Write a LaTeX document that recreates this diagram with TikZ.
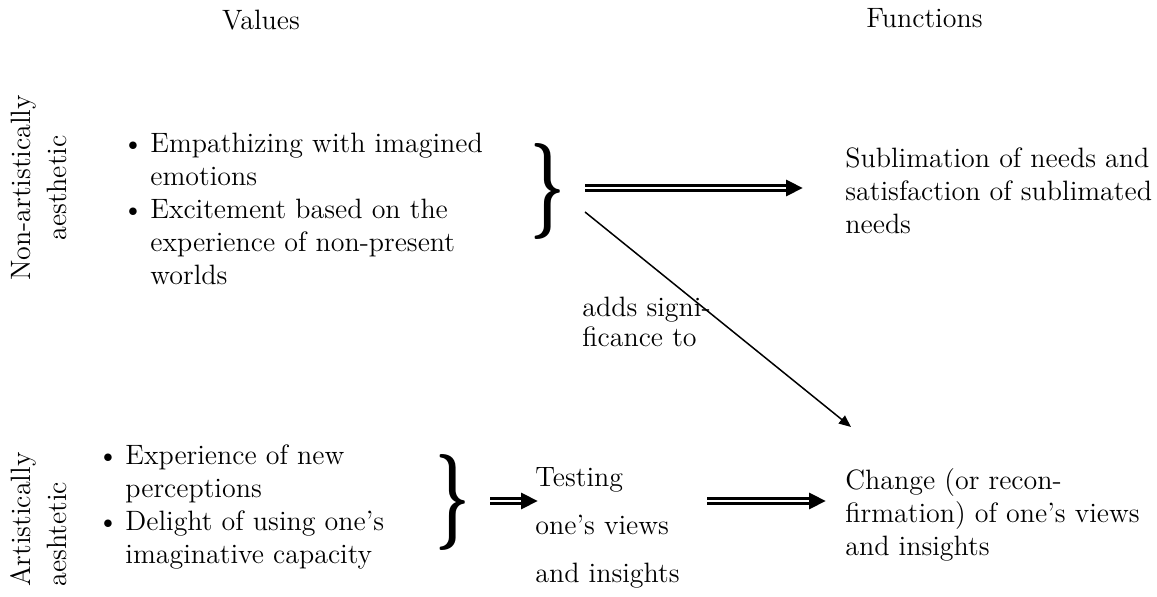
\documentclass[tikz,border=0pt]{standalone}
\usetikzlibrary{arrows.meta}
\usepackage{graphicx}
\begin{document}
\begin{tikzpicture}[x=0.5pt,y=-0.5pt,
  txt/.style={inner sep=0pt, font=\fontsize{14}{16.5}\selectfont, anchor=base west},
  dbl/.style={line width=4.4pt, -{Triangle[length=8.5pt,width=7.8pt]}},
  dblin/.style={white, line width=1.4pt, shorten >=8.5pt},
  thinarrow/.style={line width=0.75pt, -{Triangle[length=6pt,width=5pt]}},
  brc/.style={inner sep=0pt}]
\useasboundingbox (0,0) rectangle (1157,597);
\newcommand{\bul}{\makebox[14pt][l]{\textbullet}}
\newcommand{\bigbrace}{\scalebox{1}[1.6]{\fontsize{30}{30}\selectfont\bfseries\}}}

% headers
\node[txt, anchor=base] (values) at (261,30) {Values};
\node[txt, anchor=base east] (functions) at (983,28) {Functions};

% side labels
\node[txt, rotate=90, anchor=base, font=\fontsize{14}{17.5}\selectfont] (lab1) at (31,188)
  {\begin{tabular}[t]{@{}c@{}}Non-artistically\\aesthetic\end{tabular}};
\node[txt, rotate=90, anchor=base west, font=\fontsize{14}{17.5}\selectfont] (lab2) at (31,587)
  {\begin{tabular}[t]{@{}l@{}}Artistically\\aeshtetic\end{tabular}};

% bullet lists
\node[txt] (bul1) at (122,153)
  {\begin{tabular}[t]{@{}l@{}l@{}}\bul&Empathizing with imagined\\&emotions\\\bul&Excitement based on the\\&experience of non-present\\&worlds\end{tabular}};
\node[txt] (bul2) at (97,465)
  {\begin{tabular}[t]{@{}l@{}l@{}}\bul&Experience of new\\&perceptions\\\bul&Delight of using one's\\&imaginative capacity\end{tabular}};

% braces
\node[brc] (br1) at (548,192) {\bigbrace};
\node[brc] (br2) at (453,503) {\bigbrace};

% function texts
\node[txt] (fun1) at (845,168)
  {\begin{tabular}[t]{@{}l@{}}Sublimation of needs and\\satisfaction of sublimated\\needs\end{tabular}};
\node[txt] (fun2) at (845,490)
  {\begin{tabular}[t]{@{}l@{}}Change (or recon-\\firmation) of one's views\\and insights\end{tabular}};
\node[txt, font=\fontsize{14}{24}\selectfont] (test) at (535,487)
  {\begin{tabular}[t]{@{}l@{}}Testing\\one's views\\and insights\end{tabular}};
\node[txt, font=\fontsize{14}{15}\selectfont] (adds) at (582,317)
  {\begin{tabular}[t]{@{}l@{}}adds signi-\\ficance to\end{tabular}};

% connector endpoints
\coordinate (a1s) at (585,188);
\coordinate (a1e) at (803,188);
\coordinate (a2s) at (585,212);
\coordinate (a2e) at (851,427);
\coordinate (a3s) at (490,501);
\coordinate (a3e) at (538,501);
\coordinate (a4s) at (707,501);
\coordinate (a4e) at (826,501);

\draw[dbl] (a1s) -- (a1e);
\draw[dblin] (a1s) -- (a1e);
\draw[thinarrow] (a2s) -- (a2e);
\draw[dbl] (a3s) -- (a3e);
\draw[dblin] (a3s) -- (a3e);
\draw[dbl] (a4s) -- (a4e);
\draw[dblin] (a4s) -- (a4e);
\end{tikzpicture}
\end{document}
